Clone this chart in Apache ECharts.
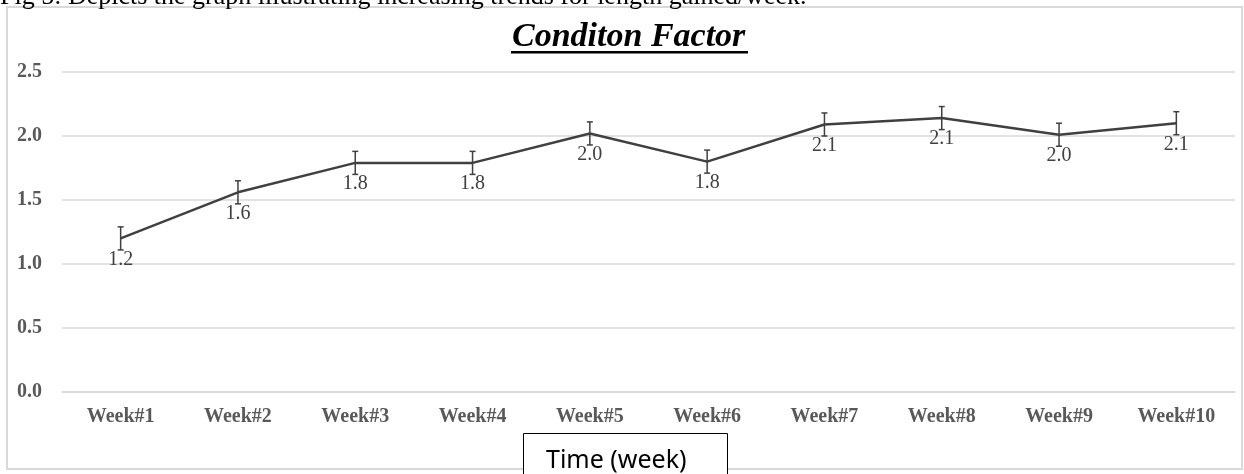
<!DOCTYPE html>
<html>
<head>
<meta charset="utf-8">
<script src="https://cdn.jsdelivr.net/npm/echarts@6/dist/echarts.min.js"></script>
<style>
  html, body { margin: 0; padding: 0; background: #ffffff; }
  #chart { width: 1244px; height: 474px; }
</style>
</head>
<body>
<div id="chart"></div>
<script>
// Weekly condition factor with error bars
const weeks = ['Week#1', 'Week#2', 'Week#3', 'Week#4', 'Week#5', 'Week#6', 'Week#7', 'Week#8', 'Week#9', 'Week#10'];
const conditionFactor = [1.2, 1.56, 1.79, 1.79, 2.02, 1.8, 2.09, 2.14, 2.01, 2.1];
const errorMargin = [0.09, 0.09, 0.09, 0.09, 0.09, 0.09, 0.09, 0.09, 0.09, 0.09];
const yTicks = [0, 0.5, 1.0, 1.5, 2.0, 2.5];

const serif = '"Liberation Serif", "Times New Roman", serif';
const ink = '#404040';

const chart = echarts.init(document.getElementById('chart'), null, { renderer: 'canvas' });

chart.setOption({
  backgroundColor: '#ffffff',
  animation: false,
  grid: { left: 62, right: 9, top: 72, bottom: 82, containLabel: false },
  xAxis: {
    type: 'category',
    data: weeks,
    boundaryGap: true,
    axisLine: { show: true, lineStyle: { color: '#d9d9d9', width: 1.5 } },
    axisTick: { show: false },
    axisLabel: { color: '#595959', fontFamily: serif, fontSize: 20, fontWeight: 'bold', margin: 15 }
  },
  yAxis: {
    type: 'value',
    min: yTicks[0],
    max: yTicks[yTicks.length - 1],
    interval: 0.5,
    axisLine: { show: false },
    axisTick: { show: false },
    splitLine: { lineStyle: { color: '#d9d9d9', width: 1.5 } },
    axisLabel: {
      color: '#595959', fontFamily: serif, fontSize: 20, fontWeight: 'bold', margin: 20,
      formatter: v => v.toFixed(1)
    }
  },
  graphic: [
    // caption line above the chart box
    {
      type: 'text', left: 0, top: -16, silent: true,
      style: {
        text: 'Fig 5: Depicts the graph illustrating increasing trends for length gained/week.',
        font: '26px ' + serif, fill: '#000000'
      }
    },
    // chart frame
    {
      type: 'rect', silent: true, z: -1,
      shape: { x: 7, y: 7, width: 1235, height: 462 },
      style: { fill: 'none', stroke: '#d9d9d9', lineWidth: 2 }
    },
    // chart title with underline
    {
      type: 'text', left: 512, top: 20, silent: true,
      style: {
        text: 'Conditon Factor',
        font: 'italic bold 34px ' + serif, fill: '#000000'
      }
    },
    {
      type: 'rect', silent: true,
      shape: { x: 511, y: 51, width: 237, height: 2.5 },
      style: { fill: '#000000' }
    },
    // x-axis caption box
    {
      type: 'rect', silent: true,
      shape: { x: 523.5, y: 433.5, width: 204, height: 60 },
      style: { fill: '#ffffff', stroke: '#000000', lineWidth: 1 }
    },
    {
      type: 'text', left: 546, top: 448, silent: true,
      style: {
        text: 'Time (week)',
        font: '25px "Noto Sans", "Open Sans", sans-serif', fill: '#000000'
      }
    }
  ],
  series: [
    {
      name: 'Condition factor',
      type: 'line',
      data: conditionFactor,
      symbol: 'circle',
      symbolSize: 0.1,
      showSymbol: true,
      itemStyle: { color: ink },
      lineStyle: { color: ink, width: 2.5 },
      label: {
        show: true,
        position: 'bottom',
        distance: 11,
        color: '#404040',
        fontFamily: serif,
        fontSize: 20,
        formatter: p => p.value.toFixed(1)
      },
      z: 3
    },
    {
      name: 'Error',
      type: 'custom',
      data: conditionFactor.map((v, i) => [i, v - errorMargin[i], v + errorMargin[i]]),
      encode: { x: 0, y: [1, 2] },
      z: 4,
      renderItem: (params, api) => {
        const i = api.value(0);
        const lo = api.coord([i, api.value(1)]);
        const hi = api.coord([i, api.value(2)]);
        const cap = 3;
        const style = { stroke: ink, lineWidth: 1.5 };
        return {
          type: 'group',
          children: [
            { type: 'line', shape: { x1: lo[0], y1: lo[1], x2: hi[0], y2: hi[1] }, style },
            { type: 'line', shape: { x1: hi[0] - cap, y1: hi[1], x2: hi[0] + cap, y2: hi[1] }, style },
            { type: 'line', shape: { x1: lo[0] - cap, y1: lo[1], x2: lo[0] + cap, y2: lo[1] }, style }
          ]
        };
      }
    }
  ]
});
</script>
</body>
</html>
